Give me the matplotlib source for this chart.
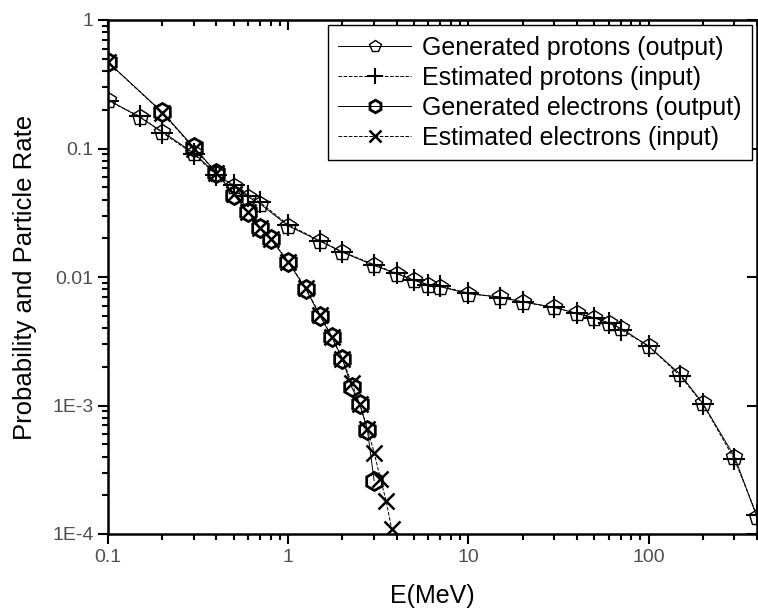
import numpy as np
import matplotlib.pyplot as plt

# proton spectrum
e_p = [0.1, 0.15, 0.2, 0.3, 0.4, 0.5, 0.6, 0.7, 1.0, 1.5, 2.0, 3.0, 4.0, 5.0, 6.0, 7.0,
       10, 15, 20, 30, 40, 50, 60, 70, 100, 150, 200, 300, 400]
gen_p = [0.24, 0.175, 0.135, 0.092, 0.063, 0.051, 0.042, 0.037, 0.025, 0.019, 0.0156, 0.0123,
         0.0106, 0.0094, 0.0087, 0.0084, 0.0074, 0.0070, 0.0064, 0.0058, 0.0052, 0.0048,
         0.0044, 0.0040, 0.0029, 0.00175, 0.00104, 0.00040, 0.000135]
est_p = [0.235, 0.178, 0.133, 0.09, 0.062, 0.052, 0.043, 0.038, 0.0255, 0.0192, 0.0157,
         0.0125, 0.0107, 0.0095, 0.0087, 0.0085, 0.0075, 0.0069, 0.0064, 0.0058, 0.0052,
         0.0048, 0.0044, 0.0039, 0.0029, 0.0017, 0.00103, 0.00038, 0.00014]

# electron spectrum
e_e = [0.1, 0.2, 0.3, 0.4, 0.5, 0.6, 0.7, 0.8, 1.0, 1.25, 1.5, 1.75, 2.0, 2.25, 2.5, 2.75, 3.0]
gen_e = [0.47, 0.192, 0.102, 0.065, 0.0435, 0.032, 0.024, 0.0198, 0.0131, 0.0081, 0.0050,
         0.0034, 0.0023, 0.00139, 0.00102, 0.00065, 0.00026]
e_e2 = [0.1, 0.2, 0.3, 0.4, 0.5, 0.6, 0.7, 0.8, 1.0, 1.25, 1.5, 1.75, 2.0, 2.25, 2.5, 2.75,
        3.0, 3.25, 3.5, 3.75]
est_e = [0.47, 0.19, 0.1, 0.065, 0.044, 0.032, 0.024, 0.0198, 0.0132, 0.0082, 0.0051,
         0.0034, 0.0023, 0.0015, 0.00102, 0.00066, 0.00043, 0.00027, 0.00018, 0.00011]

plt.rcParams['font.family'] = ['Liberation Sans', 'DejaVu Sans']

fig = plt.figure(figsize=(7.58, 6.11), dpi=100)
ax = fig.add_axes([108 / 758, 77 / 611, 649 / 758, 514 / 611])

ax.plot(e_p, gen_p, '-', color='k', lw=0.7, marker='p', ms=12, mfc='none', mec='k', mew=1.0,
        label='Generated protons (output)')
ax.plot(e_p, est_p, '--', color='k', lw=0.7, marker='+', ms=16, mew=1.5,
        label='Estimated protons (input)')
ax.plot(e_e, gen_e, '-', color='k', lw=0.7, marker='h', ms=13, mfc='none', mec='k', mew=2.0,
        label='Generated electrons (output)')
ax.plot(e_e2, est_e, '--', color='k', lw=0.7, marker='x', ms=12, mew=1.8,
        label='Estimated electrons (input)')

ax.set_xscale('log')
ax.set_yscale('log')
ax.set_xlim(0.1, 400)
ax.set_ylim(1e-4, 1)

ax.set_xticks([0.1, 1, 10, 100], ['0.1', '1', '10', '100'])
ax.set_yticks([1e-4, 1e-3, 0.01, 0.1, 1], ['1E-4', '1E-3', '0.01', '0.1', '1'])
ax.tick_params(which='both', direction='out', labelsize=14, labelcolor='#505050', width=1.5)
ax.tick_params(which='major', length=7)
ax.tick_params(which='minor', length=4)

for s in ax.spines.values():
    s.set_linewidth(1.8)

top = ax.secondary_xaxis('top')
top.tick_params(which='both', direction='in', labeltop=False, width=1.5)
top.tick_params(which='major', length=7)
top.tick_params(which='minor', length=4)
top.set_xticks([0.1, 1, 10, 100])
right = ax.secondary_yaxis('right')
right.tick_params(which='both', direction='in', labelright=False, width=1.5)
right.tick_params(which='major', length=7)
right.tick_params(which='minor', length=0)
right.set_yticks([1e-4, 1e-3, 0.01, 0.1, 1])

ax.set_xlabel('E(MeV)', fontsize=18, labelpad=13)
ax.set_ylabel('Probability and Particle Rate', fontsize=18.5, labelpad=11)

leg = ax.legend(loc='upper right', fontsize=18, fancybox=False, edgecolor='k',
                handlelength=2.9, handletextpad=0.45, markerscale=0.7, borderaxespad=0.2,
                labelspacing=0.24, borderpad=0.42, framealpha=1)
leg.get_frame().set_linewidth(1.0)

fig.savefig('out.png', dpi=100)
